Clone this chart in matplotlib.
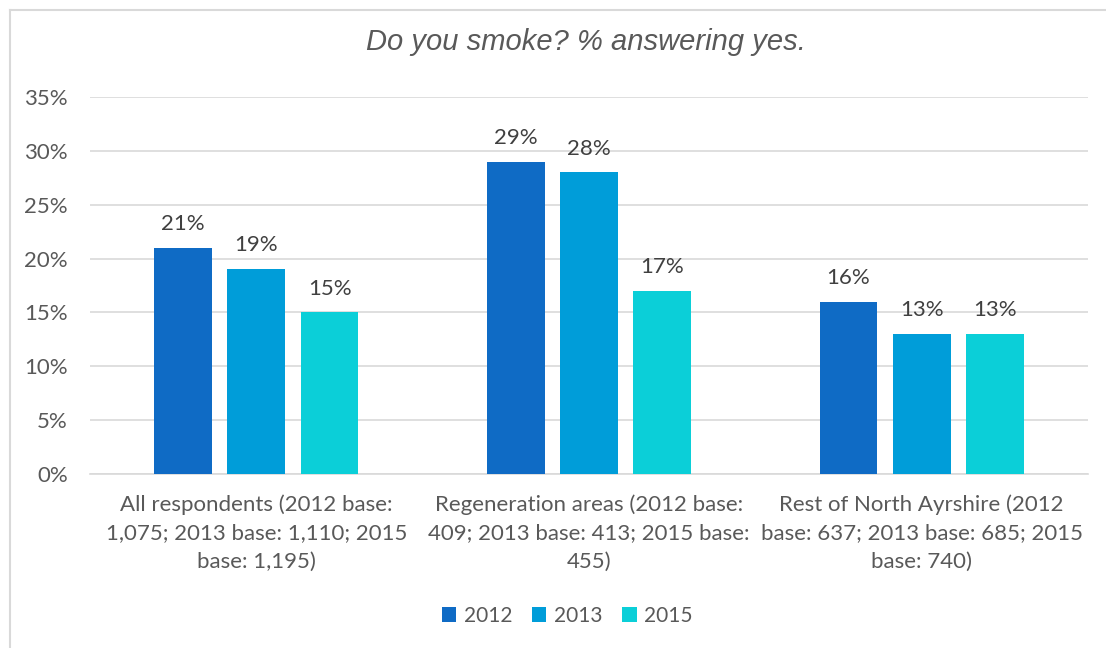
import matplotlib.pyplot as plt
import numpy as np
from matplotlib.lines import Line2D

# Dados do gráfico
categorias = [
    'All respondents (2012 base:\n1,075; 2013 base: 1,110; 2015\nbase: 1,195)',
    'Regeneration areas (2012 base:\n409; 2013 base: 413; 2015 base:\n455)',
    'Rest of North Ayrshire (2012\nbase: 637; 2013 base: 685; 2015\nbase: 740)',
]
anos = ['2012', '2013', '2015']
fumantes_2012 = [21, 29, 16]
fumantes_2013 = [19, 28, 13]
fumantes_2015 = [15, 17, 13]
yticks = [0, 5, 10, 15, 20, 25, 30, 35]

cores = ['#0F6BC5', '#009DD9', '#0BCFD8']
cinza_texto = '#595959'
cinza_rotulo = '#404040'
cinza_grade = '#D9D9D9'

fig = plt.figure(figsize=(11.06, 6.48), dpi=100)
ax = fig.add_axes([90 / 1106, 1 - 474 / 648, 998 / 1106, 377 / 648])

x = np.arange(len(categorias))
largura = 0.174
passo = 0.22
series = [fumantes_2012, fumantes_2013, fumantes_2015]

for i, (ano, valores) in enumerate(zip(anos, series)):
    pos = x + (i - 1) * passo
    barras = ax.bar(pos, valores, width=largura, color=cores[i], label=ano, zorder=3)
    for b, v in zip(barras, valores):
        ax.annotate(f'{v}%', (b.get_x() + b.get_width() / 2, v),
                    xytext=(0, 10), textcoords='offset points',
                    ha='center', va='bottom', fontsize=16,
                    family='Lato', color=cinza_rotulo)

ax.set_xlim(-0.5, 2.5)
ax.set_ylim(0, 35)
ax.set_yticks(yticks)
ax.set_yticklabels([f'{t}%' for t in yticks], family='Lato', fontsize=16, color=cinza_texto)
ax.set_xticks(x)
ax.set_xticklabels(categorias, family='Lato', fontsize=16, color=cinza_texto, linespacing=1.5)
ax.tick_params(axis='both', length=0)
ax.tick_params(axis='y', pad=16)
ax.tick_params(axis='x', pad=15)
ax.grid(axis='y', color=cinza_grade, linewidth=1.2, zorder=0)
for lado in ['top', 'right', 'left']:
    ax.spines[lado].set_visible(False)
ax.spines['bottom'].set_color(cinza_grade)
ax.spines['bottom'].set_linewidth(1.2)

fig.text(586 / 1106, 1 - 42 / 648, 'Do you smoke? % answering yes.', ha='center', va='center',
         fontsize=21, style='italic', family='Liberation Sans', color=cinza_texto)

leg = fig.legend(loc='center', bbox_to_anchor=(567 / 1106, 1 - 616 / 648), ncol=3,
                 frameon=False, prop={'family': 'Lato', 'size': 15},
                 handlelength=0.7, handleheight=0.7, handletextpad=0.35, columnspacing=0.95)
for t in leg.get_texts():
    t.set_color(cinza_texto)

# Moldura do gráfico
fig.add_artist(Line2D([9.5 / 1106, 9.5 / 1106], [0, 1 - 9.5 / 648], transform=fig.transFigure,
                      color=cinza_grade, linewidth=1.5))
fig.add_artist(Line2D([9.5 / 1106, 1], [1 - 9.5 / 648, 1 - 9.5 / 648], transform=fig.transFigure,
                      color=cinza_grade, linewidth=1.5))

fig.savefig('out.png', dpi=100)
